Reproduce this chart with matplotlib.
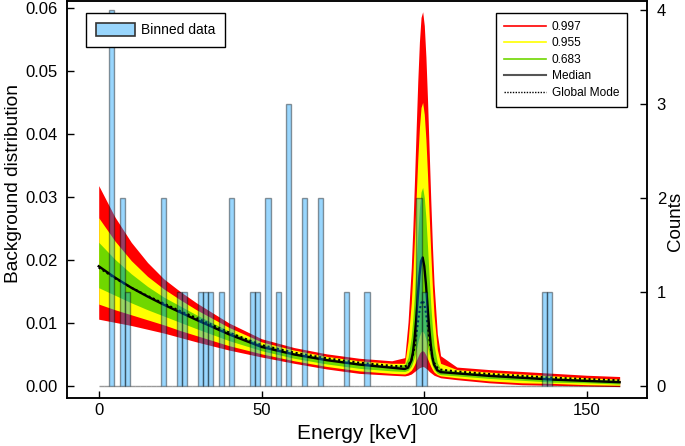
import numpy as np
import matplotlib
matplotlib.use("Agg")
import matplotlib.pyplot as plt
from matplotlib.lines import Line2D
from matplotlib.patches import Patch
from matplotlib.ticker import FormatStrFormatter

plt.rcParams['font.family'] = ['Liberation Sans', 'DejaVu Sans']

# ---- data ----
energy = [0, 5, 10, 15, 20, 25, 30, 40, 50, 60, 70, 80, 90, 94,
          95, 96, 96.5, 97, 97.5, 98, 98.5, 99, 99.5, 100, 100.5, 101, 101.5, 102, 102.5, 103, 104,
          105, 110, 120, 130, 140, 150, 160]

median = [0.0190, 0.0172, 0.0156, 0.0142, 0.0129, 0.0117, 0.0105, 0.0082, 0.0062, 0.0050, 0.0041, 0.0034, 0.0029, 0.0027,
          0.0029, 0.0040, 0.0053, 0.0075, 0.0105, 0.0141, 0.0175, 0.0198, 0.0204, 0.0190, 0.0162, 0.0126, 0.0092, 0.0065, 0.0045, 0.0034, 0.0025,
          0.0022, 0.0020, 0.0016, 0.0013, 0.0010, 0.0008, 0.0006]

global_mode = [0.0188, 0.0171, 0.0156, 0.0143, 0.0131, 0.0119, 0.0108, 0.0085, 0.0065, 0.0053, 0.0044, 0.0037, 0.0032, 0.0031,
               0.0033, 0.0040, 0.0049, 0.0062, 0.0079, 0.0099, 0.0118, 0.0131, 0.0136, 0.0130, 0.0116, 0.0097, 0.0077, 0.0059, 0.0046, 0.0037, 0.0029,
               0.0026, 0.0023, 0.0019, 0.0016, 0.0013, 0.0011, 0.0009]

red_hi = [0.0318, 0.0268, 0.0228, 0.0196, 0.0170, 0.0150, 0.0132, 0.0100, 0.0075, 0.0061, 0.0051, 0.0044, 0.0040, 0.0045,
          0.0101, 0.0188, 0.0253, 0.0328, 0.0408, 0.0484, 0.0546, 0.0585, 0.0594, 0.0572, 0.0522, 0.0453, 0.0373, 0.0294, 0.0222, 0.0162, 0.0083,
          0.0048, 0.0030, 0.0026, 0.0023, 0.0020, 0.0017, 0.0015]
red_lo = [0.0106, 0.0101, 0.0096, 0.0090, 0.0084, 0.0077, 0.0070, 0.0057, 0.0046, 0.0036, 0.0027, 0.0020, 0.0017, 0.0016,
          0.0017, 0.0019, 0.0021, 0.0023, 0.0025, 0.0027, 0.0029, 0.0030, 0.0031, 0.0030, 0.0028, 0.0026, 0.0023, 0.0021, 0.0019, 0.0017, 0.0015,
          0.0013, 0.0010, 0.0005, 0.0002, 0.0001, 0.0000, -0.0001]

yellow_hi = [0.0267, 0.0230, 0.0199, 0.0174, 0.0154, 0.0137, 0.0121, 0.0093, 0.0070, 0.0057, 0.0047, 0.0040, 0.0036, 0.0036,
             0.0071, 0.0132, 0.0179, 0.0236, 0.0299, 0.0360, 0.0410, 0.0442, 0.0450, 0.0431, 0.0391, 0.0334, 0.0271, 0.0210, 0.0155, 0.0112, 0.0058,
             0.0036, 0.0026, 0.0022, 0.0019, 0.0016, 0.0013, 0.0011]
yellow_lo = [0.0130, 0.0121, 0.0113, 0.0105, 0.0097, 0.0088, 0.0080, 0.0064, 0.0051, 0.0040, 0.0031, 0.0024, 0.0020, 0.0019,
             0.0021, 0.0025, 0.0029, 0.0034, 0.0040, 0.0046, 0.0052, 0.0055, 0.0056, 0.0054, 0.0049, 0.0043, 0.0037, 0.0031, 0.0026, 0.0022, 0.0018,
             0.0016, 0.0013, 0.0008, 0.0005, 0.0004, 0.0002, 0.0001]

green_hi = [0.0228, 0.0201, 0.0178, 0.0158, 0.0141, 0.0127, 0.0113, 0.0087, 0.0066, 0.0053, 0.0044, 0.0037, 0.0032, 0.0034,
            0.0045, 0.0078, 0.0108, 0.0147, 0.0194, 0.0241, 0.0282, 0.0308, 0.0315, 0.0299, 0.0266, 0.0221, 0.0172, 0.0128, 0.0092, 0.0065, 0.0037,
            0.0027, 0.0023, 0.0019, 0.0016, 0.0013, 0.0011, 0.0009]
green_lo = [0.0156, 0.0144, 0.0132, 0.0121, 0.0111, 0.0101, 0.0091, 0.0072, 0.0056, 0.0044, 0.0035, 0.0028, 0.0024, 0.0023,
            0.0025, 0.0031, 0.0038, 0.0046, 0.0057, 0.0069, 0.0079, 0.0086, 0.0087, 0.0083, 0.0074, 0.0063, 0.0051, 0.0040, 0.0032, 0.0026, 0.0020,
            0.0018, 0.0016, 0.0012, 0.0009, 0.0006, 0.0005, 0.0003]

# histogram: 100 bins of 1.6 keV from 0 to 160 keV
bin_width = 1.6
counts = [0, 0, 4, 0, 2, 1, 0, 0, 0, 0,
          0, 0, 2, 0, 0, 1, 1, 0, 0, 1,
          1, 1, 0, 1, 0, 2, 0, 0, 0, 1,
          1, 0, 2, 0, 1, 0, 3, 0, 0, 2,
          0, 0, 2, 0, 0, 0, 0, 1, 0, 0,
          0, 1, 0, 0, 0, 0, 0, 0, 0, 0,
          0, 2, 1, 0, 0, 0, 0, 0, 0, 0,
          0, 0, 0, 0, 0, 0, 0, 0, 0, 0,
          0, 0, 0, 0, 0, 1, 1, 0, 0, 0,
          0, 0, 0, 0, 0, 0, 0, 0, 0, 0]

band_labels = ['0.997', '0.955', '0.683']
band_colors = ['#ff0000', '#ffff00', '#6fd700']
yticks_left = [0.00, 0.01, 0.02, 0.03, 0.04, 0.05, 0.06]
yticks_right = [0, 1, 2, 3, 4]
xticks = [0, 50, 100, 150]

# ---- figure ----
W, H = 685, 446
fig = plt.figure(figsize=(W / 100, H / 100), dpi=100)
ax1 = fig.add_axes([67 / W, (H - 397.7) / H, (647 - 67) / W, (397.7 - 1) / H])

ax1.fill_between(energy, red_lo, red_hi, color=band_colors[0], lw=0, zorder=1)
ax1.fill_between(energy, yellow_lo, yellow_hi, color=band_colors[1], lw=0, zorder=2)
ax1.fill_between(energy, green_lo, green_hi, color=band_colors[2], lw=0, zorder=3)
ax1.plot(energy, median, color='black', lw=1.7, zorder=4)
ax1.plot(energy, global_mode, color='black', lw=1.5, ls=(0, (1, 1.3)), zorder=5)

ax1.set_xlim(-9.74, 168.4)
ax1.set_ylim(-0.00186, 0.0611)
ax1.set_xticks(xticks)
ax1.set_yticks(yticks_left)
ax1.yaxis.set_major_formatter(FormatStrFormatter('%.2f'))

ax2 = ax1.twinx()
edges = np.arange(len(counts)) * bin_width
bar_face = (0 / 255, 154 / 255, 250 / 255, 0.4)
bar_edge = (0, 0, 0, 0.4)
ax2.bar(edges, counts, width=bin_width, align='edge', color=bar_face,
        edgecolor=bar_edge, linewidth=1.0, zorder=1)
ax2.set_ylim(-0.1245, 4.096)
ax2.set_yticks(yticks_right)

for ax in (ax1, ax2):
    for sp in ax.spines.values():
        sp.set_linewidth(1.1)
        sp.set_color('black')

ax1.tick_params(axis='x', direction='in', length=5, width=1, labelsize=12, pad=3.5, top=False)
ax1.tick_params(axis='y', direction='in', length=5, width=1, labelsize=12, pad=7, right=False)
ax2.tick_params(axis='y', direction='in', length=5, width=1, labelsize=12, pad=7)

ax1.set_xlabel('Energy [keV]', fontsize=15)
ax1.set_ylabel('Background distribution', fontsize=13.8)
ax2.set_ylabel('Counts', fontsize=13.5)
ax1.xaxis.set_label_coords(0.5, -0.066)
ax1.yaxis.set_label_coords(-0.078, 0.54)
ax2.yaxis.set_label_coords(1.034, 0.445)

# legends (drawn on the top axes)
h1 = [Patch(facecolor=bar_face, edgecolor='#333333', linewidth=1.2)]
leg1 = ax2.legend(h1, ['Binned data'], loc='upper left',
                  bbox_to_anchor=(86 / W, 1 - 13 / H), bbox_transform=fig.transFigure,
                  fontsize=10, frameon=True, fancybox=False, edgecolor='black',
                  handlelength=2.8, handleheight=1.05, handletextpad=0.45,
                  borderpad=0.7, borderaxespad=0, framealpha=1)
leg1.get_frame().set_linewidth(1.0)
ax2.add_artist(leg1)

h2 = [Line2D([], [], color=c, lw=1.2) for c in band_colors]
h2.append(Line2D([], [], color='#555555', lw=1.5))
h2.append(Line2D([], [], color='black', lw=1.0, ls=(0, (1, 1))))
leg2 = ax2.legend(h2, band_labels + ['Median', 'Global Mode'], loc='upper right',
                  bbox_to_anchor=(627 / W, 1 - 13 / H), bbox_transform=fig.transFigure,
                  fontsize=8.6, frameon=True, fancybox=False, edgecolor='black',
                  handlelength=3.5, handletextpad=0.5, labelspacing=0.38,
                  borderpad=0.65, borderaxespad=0, framealpha=1)
leg2.get_frame().set_linewidth(1.0)

fig.savefig('out.png', dpi=100)
